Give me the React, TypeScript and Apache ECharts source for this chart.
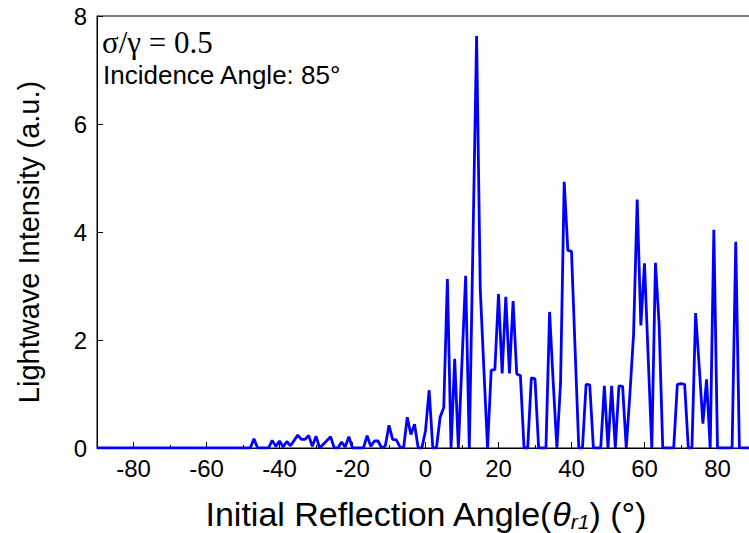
import React, { useEffect, useRef } from "react";
import * as echarts from "echarts";

// Sampling grid of the initial reflection angle (degrees), 1° steps
const angleStart = -90;
const angleStep = 1;

// Lightwave intensity (a.u.) for each angle from -90° to 90°
const intensity = [
  // -90 .. -81
  0, 0, 0, 0, 0, 0, 0, 0, 0, 0,
  // -80 .. -71
  0, 0, 0, 0, 0, 0, 0, 0, 0, 0,
  // -70 .. -61
  0, 0, 0, 0, 0, 0, 0, 0, 0, 0,
  // -60 .. -51
  0, 0, 0, 0, 0, 0, 0, 0, 0, 0,
  // -50 .. -41
  0, 0, 0, 0.17, 0, 0, 0, 0, 0.14, 0.03,
  // -40 .. -31
  0.13, 0.02, 0.12, 0.04, 0.14, 0.24, 0.16, 0.16, 0.23, 0.03,
  // -30 .. -21
  0.22, 0, 0.07, 0.14, 0.21, 0, 0, 0.11, 0.02, 0.21,
  // -20 .. -11
  0, 0, 0, 0, 0.23, 0.03, 0.13, 0.13, 0, 0.04,
  // -10 .. -1
  0.42, 0.16, 0.15, 0.02, 0, 0.57, 0.25, 0.44, 0, 0,
  // 0 .. 9
  0.32, 1.07, 0, 0, 0.57, 0.75, 3.13, 0, 1.65, 0,
  // 10 .. 19
  1.6, 3.19, 0, 3.8, 7.63, 2.95, 1.45, 0, 1.44, 1.45,
  // 20 .. 29
  2.85, 1.38, 2.8, 1.38, 2.72, 1.37, 1.34, 0, 0, 1.3,
  // 30 .. 39
  1.28, 0, 0, 0, 2.52, 1.2, 0, 1.2, 4.93, 3.66,
  // 40 .. 49
  3.64, 1.8, 0, 0, 1.18, 1.17, 0, 0, 0, 1.15,
  // 50 .. 59
  0, 1.15, 0, 1.15, 1.14, 0, 1.0, 2.1, 4.6, 2.27,
  // 60 .. 69
  3.42, 1.7, 0, 3.43, 2.3, 0, 0, 0, 0, 1.18,
  // 70 .. 79
  1.19, 1.18, 0, 0, 2.5, 1.5, 0.45, 1.27, 0, 4.04,
  // 80 .. 89
  0, 0, 0, 0, 0, 3.82, 0, 0, 0, 0,
  // 90
  0,
];

// Axis ticks and labels
const xTickLabels = [-80, -60, -40, -20, 0, 20, 40, 60, 80];
const xMinorTicks = [-70, -50, -30, -10, 10, 30, 50, 70];
const yTicks = [0, 2, 4, 6, 8];

const ratioText = "σ/γ = 0.5";
const incidenceText = "Incidence Angle: 85°";

export default function App() {
  const ref = useRef<HTMLDivElement>(null);

  useEffect(() => {
    if (!ref.current) return;
    const chart = echarts.init(ref.current, undefined, { renderer: "svg" });
    const points = intensity.map((v, i) => [angleStart + i * angleStep, v]);
    const sans = "Arial, 'Liberation Sans', Helvetica, sans-serif";
    const serif = "'Times New Roman', 'Liberation Serif', serif";

    chart.setOption({
      animation: false,
      backgroundColor: "#ffffff",
      grid: {
        left: 97,
        top: 16,
        width: 657,
        height: 432,
        show: true,
        borderColor: "#000",
        borderWidth: 1,
        containLabel: false,
        outerBoundsMode: "none",
      },
      xAxis: [
        {
          type: "value",
          min: -90,
          max: 90,
          position: "bottom",
          axisLine: { show: true, onZero: false, lineStyle: { color: "#000", width: 1 } },
          axisTick: {
            show: true,
            inside: true,
            length: 6,
            customValues: xTickLabels,
            lineStyle: { color: "#000", width: 1 },
          },
          axisLabel: {
            customValues: xTickLabels,
            color: "#000",
            fontSize: 24,
            fontFamily: sans,
            margin: 8,
          },
          splitLine: { show: false },
          name: "Initial Reflection Angle({it|θ}{sub|r1}) (°)",
          nameLocation: "middle",
          nameGap: 48,
          nameTextStyle: {
            color: "#000",
            fontSize: 34,
            fontFamily: sans,
            rich: {
              it: { fontSize: 34, fontStyle: "italic", fontFamily: sans, color: "#000" },
              sub: {
                fontSize: 21,
                fontStyle: "italic",
                fontFamily: sans,
                color: "#000",
                padding: [15, 0, 0, 0],
              },
            },
          },
        },
        {
          type: "value",
          min: -90,
          max: 90,
          position: "bottom",
          axisLine: { show: false, onZero: false },
          axisTick: {
            show: true,
            inside: true,
            length: 3,
            customValues: xMinorTicks,
            lineStyle: { color: "#000", width: 1 },
          },
          axisLabel: { show: false },
          splitLine: { show: false },
        },
      ],
      yAxis: {
        type: "value",
        min: 0,
        max: 8,
        interval: 2,
        axisLine: { show: true, onZero: false, lineStyle: { color: "#000", width: 1 } },
        axisTick: {
          show: true,
          inside: true,
          length: 6,
          customValues: yTicks,
          lineStyle: { color: "#000", width: 1 },
        },
        axisLabel: {
          customValues: yTicks,
          color: "#000",
          fontSize: 24,
          fontFamily: sans,
          margin: 10,
        },
        splitLine: { show: false },
        name: "Lightwave Intensity (a.u.)",
        nameLocation: "middle",
        nameGap: 54,
        nameTextStyle: {
          color: "#000",
          fontSize: 29,
          fontFamily: sans,
          padding: [0, 20, 0, 0],
        },
      },
      graphic: [
        {
          type: "text",
          left: 102,
          top: 27,
          style: { text: ratioText, font: `31px ${serif}`, fill: "#000" },
        },
        {
          type: "text",
          left: 103,
          top: 62,
          style: { text: incidenceText, font: `26px ${sans}`, fill: "#000" },
        },
      ],
      series: [
        {
          type: "line",
          xAxisIndex: 0,
          data: points,
          showSymbol: false,
          symbol: "none",
          lineStyle: { color: "#0000ff", width: 2.8 },
          z: 3,
        },
      ],
    });

    return () => chart.dispose();
  }, []);

  // The plot frame runs a few pixels past the right edge of the window,
  // so the chart canvas is wider than its clipping frame.
  return (
    <div
      style={{
        position: "fixed",
        left: 0,
        top: 0,
        width: 749,
        height: 533,
        overflow: "hidden",
        background: "#fff",
      }}
    >
      <div ref={ref} style={{ width: 760, height: 533 }} />
    </div>
  );
}
